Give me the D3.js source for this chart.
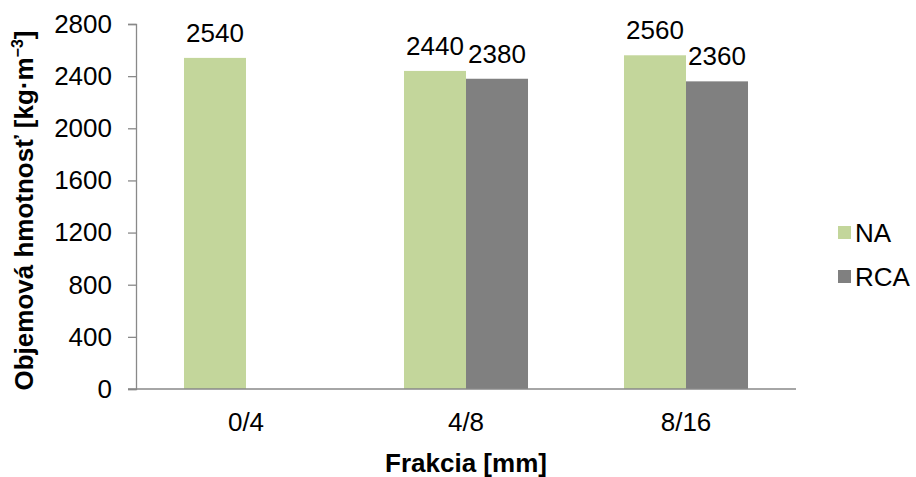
<!DOCTYPE html>
<html>
<head>
<meta charset="utf-8">
<script src="https://cdn.jsdelivr.net/npm/d3@7"></script>
<style>
  html, body { margin: 0; padding: 0; background: #fff; }
  svg { display: block; font-family: "Liberation Sans", Arial, sans-serif; }
</style>
</head>
<body>
<svg id="chart" width="916" height="477"></svg>
<script>
const categories = ["0/4", "4/8", "8/16"];
const seriesNames = ["NA", "RCA"];
const valuesNA = [2540, 2440, 2560];
const valuesRCA = [null, 2380, 2360];
const yTicks = [0, 400, 800, 1200, 1600, 2000, 2400, 2800];
const colors = ["#C3D69B", "#808080"];
const yTitle = "Objemová hmotnosť [kg·m";
const yTitleSup = "−3";
const yTitleEnd = "]";
const xTitle = "Frakcia [mm]";

const svg = d3.select("#chart");
const mLeft = 136, mRight = 796, mTop = 24, mBottom = 389;
const FS = 26;

const x0 = d3.scaleBand().domain(categories).range([mLeft, mRight]).padding(0);
const x1 = d3.scaleBand().domain(seriesNames).range([0, x0.bandwidth()]).paddingInner(0).paddingOuter(0.774);
const y = d3.scaleLinear().domain([0, 2800]).range([mBottom, mTop]);
const color = d3.scaleOrdinal().domain(seriesNames).range(colors);

const data = categories.map((c, i) => ({ cat: c, vals: [
  { s: "NA", v: valuesNA[i] }, { s: "RCA", v: valuesRCA[i] }
].filter(d => d.v != null) }));

// Y axis
const yAxis = d3.axisLeft(y).tickValues(yTicks).tickSize(8).tickPadding(16).tickFormat(d3.format("d"));
const gy = svg.append("g").attr("transform", `translate(${mLeft},0)`).call(yAxis);
gy.select(".domain").attr("stroke", "#898989").attr("stroke-width", 1.3);
gy.selectAll(".tick line").attr("stroke", "#898989").attr("stroke-width", 1.3);
gy.selectAll(".tick text").attr("font-size", FS).attr("fill", "#000").attr("font-family", '"Liberation Sans", Arial, sans-serif');

// Bars
const groups = svg.append("g").selectAll("g").data(data).join("g")
  .attr("transform", d => `translate(${x0(d.cat)},0)`);
groups.selectAll("rect").data(d => d.vals).join("rect")
  .attr("x", d => x1(d.s))
  .attr("width", x1.bandwidth())
  .attr("y", d => y(d.v))
  .attr("height", d => y(0) - y(d.v))
  .attr("fill", d => color(d.s));
groups.selectAll("text").data(d => d.vals).join("text")
  .attr("x", d => x1(d.s) + x1.bandwidth() / 2)
  .attr("y", d => y(d.v) - 16)
  .attr("text-anchor", "middle")
  .attr("font-size", FS)
  .attr("fill", "#000")
  .text(d => d.v);

// X axis
const xAxis = d3.axisBottom(x0).tickSize(0).tickPadding(24);
const gx = svg.append("g").attr("transform", `translate(0,${mBottom})`).call(xAxis);
gx.select(".domain").attr("stroke", "#898989").attr("stroke-width", 1.3).attr("d", `M${mLeft - 8},0H${mRight}`);
gx.selectAll(".tick text").attr("font-size", FS).attr("fill", "#000").attr("font-family", '"Liberation Sans", Arial, sans-serif');

// Axis titles
svg.append("text")
  .attr("x", (mLeft + mRight) / 2).attr("y", 472)
  .attr("text-anchor", "middle").attr("font-size", FS).attr("font-weight", "bold")
  .text(xTitle);

const yt = svg.append("text")
  .attr("transform", `translate(33,${(mTop + mBottom) / 2 + 4}) rotate(-90)`)
  .attr("text-anchor", "middle").attr("font-size", FS).attr("font-weight", "bold");
yt.append("tspan").text(yTitle);
yt.append("tspan").attr("font-size", 16).attr("dy", -10).text(yTitleSup);
yt.append("tspan").attr("dy", 10).text(yTitleEnd);

// Legend
const legend = svg.append("g").selectAll("g").data(seriesNames).join("g")
  .attr("transform", (d, i) => `translate(838,${226 + i * 44})`);
legend.append("rect").attr("width", 13).attr("height", 13).attr("fill", d => color(d));
legend.append("text").attr("x", 17).attr("y", 16).attr("font-size", FS).attr("fill", "#000").text(d => d);
</script>
</body>
</html>
